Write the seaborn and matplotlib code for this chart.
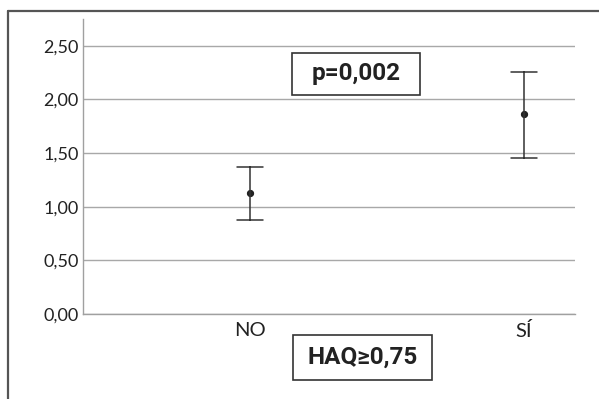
import numpy as np
import pandas as pd
import matplotlib
matplotlib.use("Agg")
import matplotlib.pyplot as plt
import matplotlib.ticker as mticker
from matplotlib.patches import Rectangle
from matplotlib.lines import Line2D
import seaborn as sns

# ---- data ----
categories = ["NO", "SÍ"]
means = [1.13, 1.86]
lower = [0.88, 1.45]
upper = [1.37, 2.26]
yticks = [0.0, 0.5, 1.0, 1.5, 2.0, 2.5]
p_text = "p=0,002"
x_title = "HAQ≥0,75"

# long form: lower / mean / upper per group -> median with 0-100 percentile interval
rows = []
for c, lo, m, hi in zip(categories, lower, means, upper):
    for v in (lo, m, hi):
        rows.append({"grupo": c, "valor": v})
df = pd.DataFrame(rows)

sns.set_theme(style="white")
plt.rcParams["font.family"] = ["Lato", "DejaVu Sans"]

fig = plt.figure(figsize=(5.99, 3.99), dpi=100)
ax = fig.add_axes([83 / 599, (399 - 314) / 399, (575 - 83) / 599, (314 - 19) / 399])

sns.pointplot(data=df, x="grupo", y="valor", order=categories,
              estimator=np.median, errorbar=("pi", 100),
              linestyle="none", color="#222222", markersize=3.2,
              capsize=0.095, err_kws={"linewidth": 1.1, "color": "#333333"},
              ax=ax)

ax.set_xlim(-0.609, 1.186)
ax.set_ylim(0, 2.75)
ax.set_yticks(yticks)
ax.yaxis.set_major_formatter(mticker.FuncFormatter(lambda v, _: f"{v:.2f}".replace(".", ",")))
ax.yaxis.grid(True, color="#a8a8a8", linewidth=1.0)
ax.set_axisbelow(True)
for s in ("top", "right"):
    ax.spines[s].set_visible(False)
for s in ("left", "bottom"):
    ax.spines[s].set_color("#a0a0a0")
    ax.spines[s].set_linewidth(1.0)
ax.tick_params(axis="y", length=0, pad=3, labelsize=13, labelcolor="#222222")
ax.tick_params(axis="x", length=0, pad=6, labelsize=14.5, labelcolor="#222222")
ax.set_xlabel("")
ax.set_ylabel("")

# outer frame (top and left edges visible)
x0 = 8 / 599
ytop = (399 - 11) / 399
fig.add_artist(Line2D([x0, 1.0], [ytop, ytop], transform=fig.transFigure, color="#555555", linewidth=1.6))
fig.add_artist(Line2D([x0, x0], [ytop, 0.0], transform=fig.transFigure, color="#555555", linewidth=1.6))

# text boxes
fig.add_artist(Rectangle((291.7 / 599, (399 - 94.7) / 399), 128.3 / 599, 41.7 / 399,
                         transform=fig.transFigure, fill=False, edgecolor="#333333", linewidth=1.2))
fig.text(355.8 / 599, (399 - 73.8) / 399, p_text, ha="center", va="center",
         fontsize=17.5, fontweight="bold", color="#222222", family=["Roboto", "DejaVu Sans"])

fig.add_artist(Rectangle((293 / 599, (399 - 380) / 399), 138.7 / 599, 45 / 399,
                         transform=fig.transFigure, fill=False, edgecolor="#333333", linewidth=1.2))
fig.text(362.3 / 599, (399 - 357.5) / 399, x_title, ha="center", va="center",
         fontsize=17.5, fontweight="bold", color="#222222", family=["Roboto", "DejaVu Sans"])

fig.savefig("out.png", dpi=100)
